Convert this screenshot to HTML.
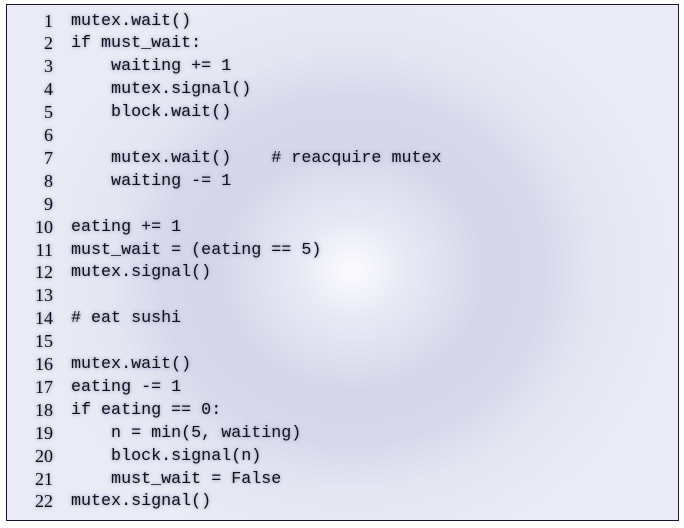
<!DOCTYPE html>
<html><head><meta charset="utf-8"><style>
html,body{margin:0;padding:0;background:#fff;}
body{width:684px;height:528px;position:relative;overflow:hidden;}
.box{position:absolute;left:6px;top:4px;width:671px;height:515px;border:1.5px solid #141438;
background:radial-gradient(ellipse 320px 290px at 345px 265px,#fbfbff 0%,#e8e8f5 18%,#d6d6ea 42%,#d8d8ec 60%,#e6e6f3 78%,#ebebf5 100%);}
.ln{position:absolute;left:0;width:46px;text-align:right;font-family:"Liberation Serif",serif;font-size:18px;color:#111;text-shadow:0 0 4px #9aa0c8,0 0 2px #c0c4e0;}
.cd{position:absolute;left:64px;font-family:"Liberation Mono",monospace;font-size:16.7px;color:#111;white-space:pre;text-shadow:0 0 4px #9aa0c8,0 0 2px #c0c4e0;}
</style></head><body>
<div class="box" id="b"></div>
<script>
var code=["mutex.wait()","if must_wait:","    waiting += 1","    mutex.signal()","    block.wait()","","    mutex.wait()    # reacquire mutex","    waiting -= 1","","eating += 1","must_wait = (eating == 5)","mutex.signal()","","# eat sushi","","mutex.wait()","eating -= 1","if eating == 0:","    n = min(5, waiting)","    block.signal(n)","    must_wait = False","mutex.signal()"];
var b=document.getElementById('b'),h='';
for(var i=0;i<22;i++){var t=5.5+i*22.9;
h+='<div class="ln" style="top:'+t+'px">'+(i+1)+'</div><div class="cd" style="top:'+(t+1)+'px">'+code[i].replace(/&/g,'&amp;').replace(/</g,'&lt;')+'</div>';}
b.innerHTML=h;
</script>
</body></html>
